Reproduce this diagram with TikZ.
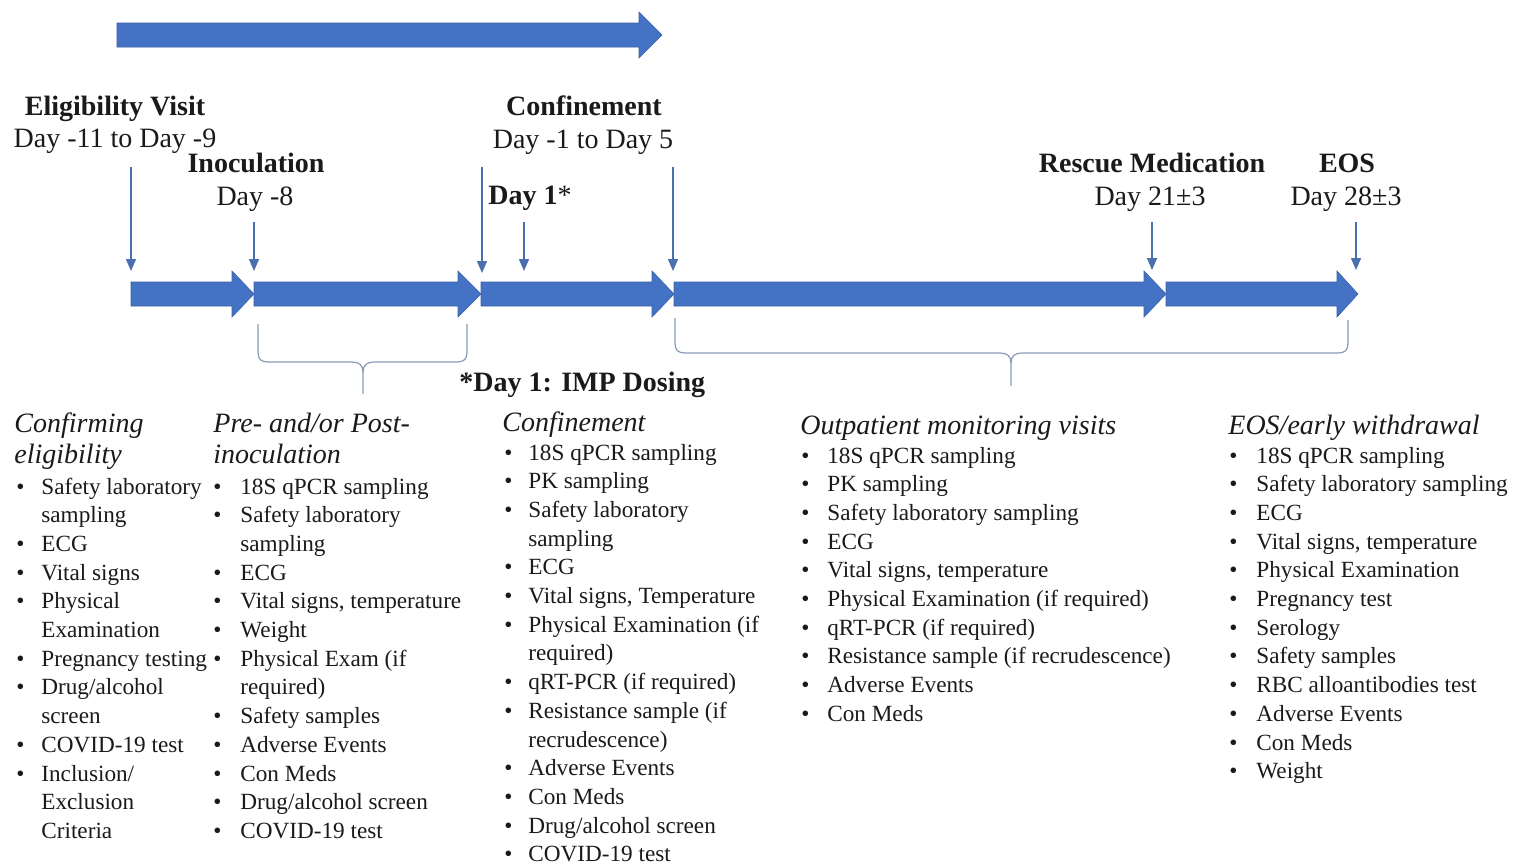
\documentclass[tikz,border=0pt]{standalone}
\usepackage{fontspec}
\setmainfont{Liberation Serif}
\usetikzlibrary{arrows.meta}
\definecolor{blockblue}{HTML}{4472C4}
\definecolor{blockedge}{HTML}{3A62AA}
\definecolor{tickblue}{HTML}{4A6FAE}
\definecolor{bracecol}{HTML}{8A9BB8}
\definecolor{txt}{HTML}{1A1A1A}
% #1 left x, #2 tip x, #3 head base x, #4 centre y
\newcommand{\blockarrow}[4]{%
  \filldraw[blockarrowstyle] (#1,#4-12) -- (#3,#4-12) -- (#3,#4-23) -- (#2,#4)
    -- (#3,#4+23) -- (#3,#4+12) -- (#1,#4+12) -- cycle;}
\newcommand{\itm}{\textbullet &}
\tikzset{
  blockarrowstyle/.style={fill=blockblue, draw=blockedge, line width=0.3pt},
  lbl/.style={font=\fontsize{14}{16}\selectfont\bfseries, text=txt, inner sep=0pt, anchor=base},
  daylbl/.style={font=\fontsize{14}{16}\selectfont, text=txt, inner sep=0pt, anchor=base},
  hdr/.style={font=\fontsize{14}{15.6}\selectfont\itshape, text=txt, inner sep=0pt, anchor=base west},
  lst/.style={font=\fontsize{11.6}{14.35}\selectfont, text=txt, inner sep=0pt, anchor=base west},
  tick/.style={tickblue, line width=0.7pt, -{Triangle[length=6pt,width=5pt]}},
  bracestyle/.style={bracecol, line width=0.6pt}
}
\begin{document}
\begin{tikzpicture}[x=0.5pt,y=-0.5pt]
\fill[white] (0,0) rectangle (1513,864);
\useasboundingbox (0,0) rectangle (1513,864);

% top arrow
\blockarrow{117}{662}{639}{35}

% timeline arrows
\blockarrow{131}{254}{232}{294}
\blockarrow{254}{481}{458}{294}
\blockarrow{481}{674}{652}{294}
\blockarrow{674}{1166}{1144}{294}
\blockarrow{1166}{1358}{1337}{294}

% labels
\node[lbl] (elig) at (115,115) {Eligibility Visit};
\node[daylbl] (eligday) at (115,147) {Day -11 to Day -9};
\node[lbl] (inoc) at (256,172) {Inoculation};
\node[daylbl] (inocday) at (255,205) {Day -8};
\node[lbl] (conf) at (584,115) {Confinement};
\node[daylbl] (confday) at (583,148) {Day -1 to Day 5};
\node[daylbl, anchor=base west] (day1) at (488,204) {\textbf{Day 1}*};
\node[lbl] (rescue) at (1152,172) {Rescue Medication};
\node[daylbl] (rescueday) at (1150,205) {Day 21±3};
\node[lbl] (eos) at (1347,172) {EOS};
\node[daylbl] (eosday) at (1346,205) {Day 28±3};
\node[lbl, anchor=base west] (dosing) at (459,391) {*Day 1: IMP Dosing};

% tick arrows
\coordinate (t1s) at (131,167); \coordinate (t1e) at (131,271);
\coordinate (t2s) at (254,222); \coordinate (t2e) at (254,271);
\coordinate (t3s) at (482,167); \coordinate (t3e) at (482,273);
\coordinate (t4s) at (524,222); \coordinate (t4e) at (524,271);
\coordinate (t5s) at (673,167); \coordinate (t5e) at (673,271);
\coordinate (t6s) at (1152,222); \coordinate (t6e) at (1152,270);
\coordinate (t7s) at (1356,222); \coordinate (t7e) at (1356,270);
\foreach \i in {1,...,7} {\draw[tick] (t\i s) -- (t\i e);}

% braces
\draw[bracestyle] (258,324) -- (258,352) .. controls (258,359) and (261,362) .. (268,362)
  -- (352,362) .. controls (359,362) and (363,365) .. (363,372) -- (363,394);
\draw[bracestyle] (467,324) -- (467,352) .. controls (467,359) and (464,362) .. (457,362)
  -- (374,362) .. controls (367,362) and (363,365) .. (363,372);
\draw[bracestyle] (675,318) -- (675,343) .. controls (675,350) and (678,353) .. (685,353)
  -- (1000,353) .. controls (1007,353) and (1011,356) .. (1011,363) -- (1011,386);
\draw[bracestyle] (1348,320) -- (1348,343) .. controls (1348,350) and (1345,353) .. (1338,353)
  -- (1022,353) .. controls (1015,353) and (1011,356) .. (1011,363);

% column headers
\node[hdr] (h1) at (14,432) {\begin{tabular}[t]{@{}l@{}}Confirming\\eligibility\end{tabular}};
\node[hdr] (h2) at (213,432) {\begin{tabular}[t]{@{}l@{}}Pre- and/or Post-\\inoculation\end{tabular}};
\node[hdr] (h3) at (502,431) {Confinement};
\node[hdr] (h4) at (800,434) {Outpatient monitoring visits};
\node[hdr] (h5) at (1228,434) {EOS/early withdrawal};

% lists
\node[lst] (l1) at (16,494) {\begin{tabular}[t]{@{}p{12.5pt}@{}l@{}}
\itm Safety laboratory\\
& sampling\\
\itm ECG\\
\itm Vital signs\\
\itm Physical\\
& Examination\\
\itm Pregnancy testing\\
\itm Drug/alcohol\\
& screen\\
\itm COVID-19 test\\
\itm Inclusion/\\
& Exclusion\\
& Criteria
\end{tabular}};

\node[lst] (l2) at (213,494) {\begin{tabular}[t]{@{}p{13.5pt}@{}l@{}}
\itm 18S qPCR sampling\\
\itm Safety laboratory\\
& sampling\\
\itm ECG\\
\itm Vital signs, temperature\\
\itm Weight\\
\itm Physical Exam (if\\
& required)\\
\itm Safety samples\\
\itm Adverse Events\\
\itm Con Meds\\
\itm Drug/alcohol screen\\
\itm COVID-19 test
\end{tabular}};

\node[lst] (l3) at (504,460) {\begin{tabular}[t]{@{}p{12pt}@{}l@{}}
\itm 18S qPCR sampling\\
\itm PK sampling\\
\itm Safety laboratory\\
& sampling\\
\itm ECG\\
\itm Vital signs, Temperature\\
\itm Physical Examination (if\\
& required)\\
\itm qRT-PCR (if required)\\
\itm Resistance sample (if\\
& recrudescence)\\
\itm Adverse Events\\
\itm Con Meds\\
\itm Drug/alcohol screen\\
\itm COVID-19 test
\end{tabular}};

\node[lst] (l4) at (801,463) {\begin{tabular}[t]{@{}p{13pt}@{}l@{}}
\itm 18S qPCR sampling\\
\itm PK sampling\\
\itm Safety laboratory sampling\\
\itm ECG\\
\itm Vital signs, temperature\\
\itm Physical Examination (if required)\\
\itm qRT-PCR (if required)\\
\itm Resistance sample (if recrudescence)\\
\itm Adverse Events\\
\itm Con Meds
\end{tabular}};

\node[lst] (l5) at (1229,463) {\begin{tabular}[t]{@{}p{13.5pt}@{}l@{}}
\itm 18S qPCR sampling\\
\itm Safety laboratory sampling\\
\itm ECG\\
\itm Vital signs, temperature\\
\itm Physical Examination\\
\itm Pregnancy test\\
\itm Serology\\
\itm Safety samples\\
\itm RBC alloantibodies test\\
\itm Adverse Events\\
\itm Con Meds\\
\itm Weight
\end{tabular}};
\end{tikzpicture}
\end{document}
